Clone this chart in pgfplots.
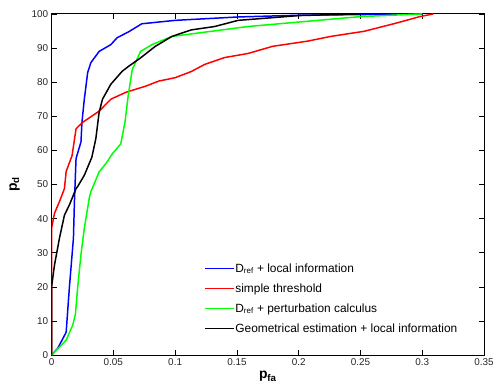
\documentclass[border=0pt]{standalone}
\usepackage{fontspec}
\setmainfont{Liberation Sans}
\usepackage{pgfplots}
\pgfplotsset{compat=1.18}
\begin{document}
\begin{tikzpicture}
\begin{axis}[name=ax,
  scale only axis, width=436pt, height=344pt,
  xmin=0, xmax=0.35, ymin=0, ymax=100,
  xtick={0,0.05,0.1,0.15,0.2,0.25,0.3,0.35},
  xticklabels={0,0.05,0.1,0.15,0.2,0.25,0.3,0.35},
  ytick={0,10,...,100},
  tick align=inside, major tick length=5pt,
  tick style={black, line width=0.6pt},
  axis line style={line width=1pt},
  ticklabel style={font=\fontsize{10}{12}\selectfont, text=black!85},
  /pgf/number format/assume math mode=true,
  xlabel={\textbf{p\textsubscript{fa}}},
  ylabel={\textbf{p\textsubscript{d}}},
  label style={font=\fontsize{14}{16}\selectfont},
  xlabel style={yshift=1pt},
  ylabel style={yshift=5pt},
  legend style={draw=none, fill=none, at={(axis cs:0.1225,27.5)}, anchor=north west,
    font=\fontsize{12}{14}\selectfont, row sep=8pt, inner sep=1pt,
    nodes={inner sep=1pt}},
  legend cell align=left,
  legend image code/.code={\draw[#1] (0pt,0pt) -- (29pt,0pt);},
]
\addplot[blue, line width=1.5pt] coordinates {(0,0) (0.005,2) (0.0118,6.7) (0.0144,19.8) (0.0177,34.3) (0.0185,45) (0.0198,57.6) (0.0238,62.5) (0.0246,68.3) (0.0265,75) (0.0292,82.8) (0.0318,85.7) (0.0385,89) (0.048,91) (0.053,93) (0.0626,94.8) (0.073,97.1) (0.1,98.1) (0.151,99.1) (0.2,99.6) (0.3,100)};
\addlegendentry{D\textsubscript{ref} + local information}
\addplot[red, line width=1.5pt] coordinates {(0,0) (0,20) (0,37.2) (0.0024,41.6) (0.0064,45) (0.0104,48.8) (0.0118,53.8) (0.0166,58.5) (0.0198,66.3) (0.0251,68.2) (0.0385,71.5) (0.048,75) (0.06,77) (0.076,78.8) (0.0867,80.3) (0.1,81.3) (0.113,83.1) (0.124,85.2) (0.14,87.2) (0.159,88.4) (0.179,90.5) (0.207,92) (0.226,93.4) (0.253,94.9) (0.279,97.3) (0.298,99.2) (0.309,100)};
\addlegendentry{simple threshold}
\addplot[green, line width=1.5pt] coordinates {(0,0) (0.0118,4.4) (0.0171,8.8) (0.0193,12) (0.0211,19.8) (0.0238,29.5) (0.0265,37.2) (0.0305,46) (0.0318,47.9) (0.0385,53.7) (0.0439,56.1) (0.0492,59) (0.056,61.9) (0.0594,68.3) (0.062,76) (0.0653,83.7) (0.072,89) (0.0813,91) (0.0974,93.4) (0.1188,94.4) (0.159,96.3) (0.25,99.2) (0.3,100)};
\addlegendentry{D\textsubscript{ref} + perturbation calculus}
\addplot[black, line width=1.5pt] coordinates {(0,0) (0,20) (0.0024,26.5) (0.0064,34.3) (0.0104,41) (0.0144,44) (0.0198,48.8) (0.0211,49.4) (0.0265,52.7) (0.0326,58) (0.0358,63.4) (0.0385,71.2) (0.0412,75) (0.048,79.4) (0.0572,83.2) (0.0626,84.7) (0.072,87.1) (0.084,90.5) (0.0974,93.4) (0.113,95.3) (0.132,96.3) (0.151,98.1) (0.2,99.5) (0.25,100)};
\addlegendentry{Geometrical estimation + local information}
\end{axis}
\path (ax.south west) ++(-52pt,-29pt) coordinate (bl);
\path (ax.north east) ++(9pt,14pt) coordinate (tr);
\path[use as bounding box] (bl) rectangle (tr);
\end{tikzpicture}
\end{document}
